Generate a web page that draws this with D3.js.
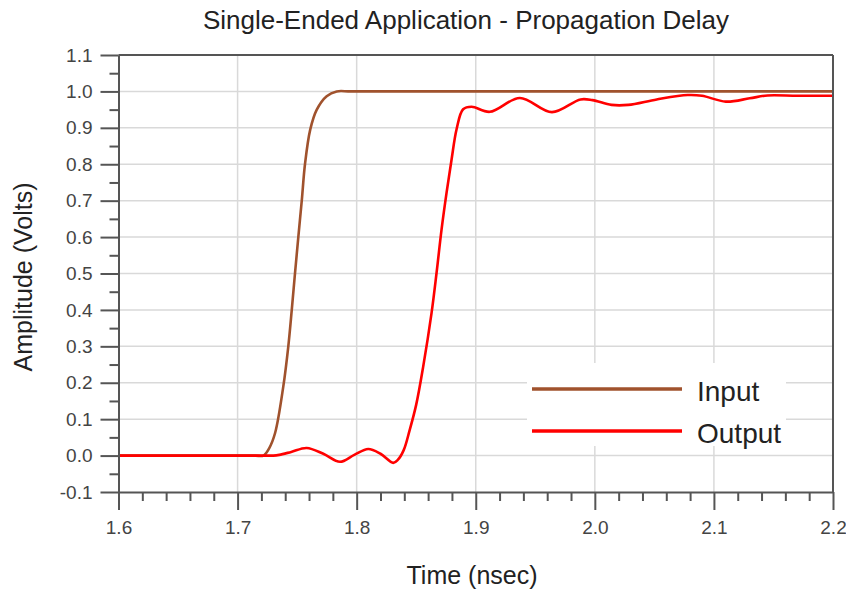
<!DOCTYPE html>
<html>
<head>
<meta charset="utf-8">
<script src="https://cdn.jsdelivr.net/npm/d3@7"></script>
<style>
  html, body { margin: 0; padding: 0; background: #fff; }
  svg { display: block; font-family: "Liberation Sans", Arial, sans-serif; }
</style>
</head>
<body>
<svg id="chart" width="846" height="590"></svg>
<script>
// Propagation delay waveforms (time in ns, amplitude in volts)
const inputTime = [1.6, 1.65, 1.7, 1.715, 1.7217, 1.7265, 1.7315, 1.7384, 1.7426, 1.7455, 1.7482, 1.751, 1.7539, 1.7566, 1.761, 1.7665, 1.7748, 1.7832, 1.795, 1.85, 1.95, 2.05, 2.15, 2.2];
const inputVolts = [0, 0, 0, 0, 0.0, 0.02, 0.062, 0.19, 0.30, 0.40, 0.50, 0.60, 0.70, 0.80, 0.895, 0.95, 0.987, 1.0, 1.0, 1.0, 1.0, 1.0, 1.0, 1.0];

const outputTime = [1.6, 1.65, 1.7, 1.72, 1.73, 1.735, 1.745, 1.758, 1.772, 1.786, 1.798, 1.8097, 1.82, 1.8307, 1.8345, 1.8395, 1.8445, 1.85, 1.8559, 1.8629, 1.8671, 1.8713, 1.8755, 1.8797, 1.8839, 1.8894, 1.8965, 1.9118, 1.937, 1.964, 1.988, 1.998, 2.014, 2.028, 2.052, 2.078, 2.09, 2.11, 2.13, 2.145, 2.17, 2.2];
const outputVolts = [0, 0, 0, 0, 0, 0.002, 0.01, 0.021, 0.005, -0.017, 0.002, 0.018, 0.005, -0.02, -0.012, 0.015, 0.07, 0.14, 0.245, 0.392, 0.502, 0.621, 0.722, 0.813, 0.896, 0.951, 0.958, 0.944, 0.982, 0.943, 0.978, 0.976, 0.963, 0.963, 0.978, 0.99, 0.988, 0.972, 0.981, 0.989, 0.988, 0.988];

const xTicks = [1.6, 1.7, 1.8, 1.9, 2.0, 2.1, 2.2];
const yTicks = [-0.1, 0.0, 0.1, 0.2, 0.3, 0.4, 0.5, 0.6, 0.7, 0.8, 0.9, 1.0, 1.1];
const seriesNames = ["Input", "Output"];
const seriesColors = ["#a0522d", "#ff0000"];

const svg = d3.select("#chart");
const plotLeft = 118.5, plotRight = 833, plotTop = 55, plotBottom = 492;

const x = d3.scaleLinear().domain([1.6, 2.2]).range([plotLeft, plotRight]);
const y = d3.scaleLinear().domain([-0.1, 1.1]).range([plotBottom, plotTop]);

const axisColor = "#555";
const gridColor = "#d9d9d9";
const labelColor = "#444";
const fmt = d => d3.format(".1f")(d).replace("\u2212", "-");

// grid
const grid = svg.append("g");
grid.selectAll("line.gx")
  .data(xTicks.slice(1, -1))
  .join("line")
  .attr("x1", d => x(d)).attr("x2", d => x(d))
  .attr("y1", plotTop).attr("y2", plotBottom)
  .attr("stroke", gridColor).attr("stroke-width", 1.5);
grid.selectAll("line.gy")
  .data(yTicks.slice(1, -1))
  .join("line")
  .attr("x1", plotLeft).attr("x2", plotRight)
  .attr("y1", d => y(d)).attr("y2", d => y(d))
  .attr("stroke", gridColor).attr("stroke-width", 1.5);

// legend backdrop hides grid behind it
svg.append("rect")
  .attr("x", 527).attr("y", 363).attr("width", 259).attr("height", 83)
  .attr("fill", "#fff");

// waveforms
const line = d3.line().curve(d3.curveCatmullRom.alpha(0.5));
const series = [
  d3.zip(inputTime, inputVolts),
  d3.zip(outputTime, outputVolts)
];
series.forEach((pts, i) => {
  svg.append("path")
    .attr("d", line(pts.map(p => [x(p[0]), y(p[1])])))
    .attr("fill", "none")
    .attr("stroke", seriesColors[i])
    .attr("stroke-width", 2.6)
    .attr("stroke-linejoin", "round");
});

// axes
const xMinor = d3.range(0, 31).map(i => 1.6 + i * 0.02).filter((v, i) => i % 5 !== 0);
const yMinor = d3.range(0, 12).map(i => -0.05 + i * 0.1);

const xAxis = d3.axisBottom(x).tickValues(xTicks).tickFormat(fmt).tickSize(18).tickSizeOuter(0).tickPadding(8);
const yAxis = d3.axisLeft(y).tickValues(yTicks).tickFormat(fmt).tickSize(18).tickSizeOuter(0).tickPadding(8);

const gx = svg.append("g").attr("transform", `translate(0,${plotBottom})`).call(xAxis);
const gy = svg.append("g").attr("transform", `translate(${plotLeft},0)`).call(yAxis);
svg.append("g").attr("transform", `translate(0,${plotBottom})`)
  .call(d3.axisBottom(x).tickValues(xMinor).tickSize(9).tickFormat("").tickSizeOuter(0))
  .select(".domain").remove();
svg.append("g").attr("transform", `translate(${plotLeft},0)`)
  .call(d3.axisLeft(y).tickValues(yMinor).tickSize(9).tickFormat("").tickSizeOuter(0))
  .select(".domain").remove();

svg.selectAll(".tick line").attr("stroke", axisColor).attr("stroke-width", 2);
svg.selectAll(".domain").attr("stroke", axisColor).attr("stroke-width", 2);
svg.selectAll(".tick text")
  .attr("fill", labelColor)
  .style("font-size", "19px")
  .style("font-family", "'Liberation Sans', Arial, sans-serif");
gx.selectAll(".tick text").attr("dy", "0.85em");

// frame top & right
svg.append("line").attr("x1", plotLeft).attr("x2", plotRight).attr("y1", plotTop).attr("y2", plotTop)
  .attr("stroke", axisColor).attr("stroke-width", 2);
svg.append("line").attr("x1", plotRight).attr("x2", plotRight).attr("y1", plotTop).attr("y2", plotBottom)
  .attr("stroke", axisColor).attr("stroke-width", 2);

// legend
const legend = svg.append("g");
seriesNames.forEach((name, i) => {
  const ly = 389 + i * 42;
  legend.append("line")
    .attr("x1", 532).attr("x2", 682).attr("y1", ly).attr("y2", ly)
    .attr("stroke", seriesColors[i]).attr("stroke-width", 3.5);
  legend.append("text")
    .attr("x", 697).attr("y", ly + 6)
    .attr("dy", "0.2em")
    .attr("fill", "#222")
    .style("font-size", "28px")
    .text(name);
});

// titles
svg.append("text")
  .attr("x", 466).attr("y", 29)
  .attr("text-anchor", "middle")
  .attr("fill", "#222")
  .style("font-size", "26px")
  .text("Single-Ended Application - Propagation Delay");

svg.append("text")
  .attr("x", 472).attr("y", 584)
  .attr("text-anchor", "middle")
  .attr("fill", "#222")
  .style("font-size", "25px")
  .text("Time (nsec)");

svg.append("text")
  .attr("transform", "translate(32,277) rotate(-90)")
  .attr("text-anchor", "middle")
  .attr("fill", "#222")
  .style("font-size", "25px")
  .text("Amplitude (Volts)");
</script>
</body>
</html>
